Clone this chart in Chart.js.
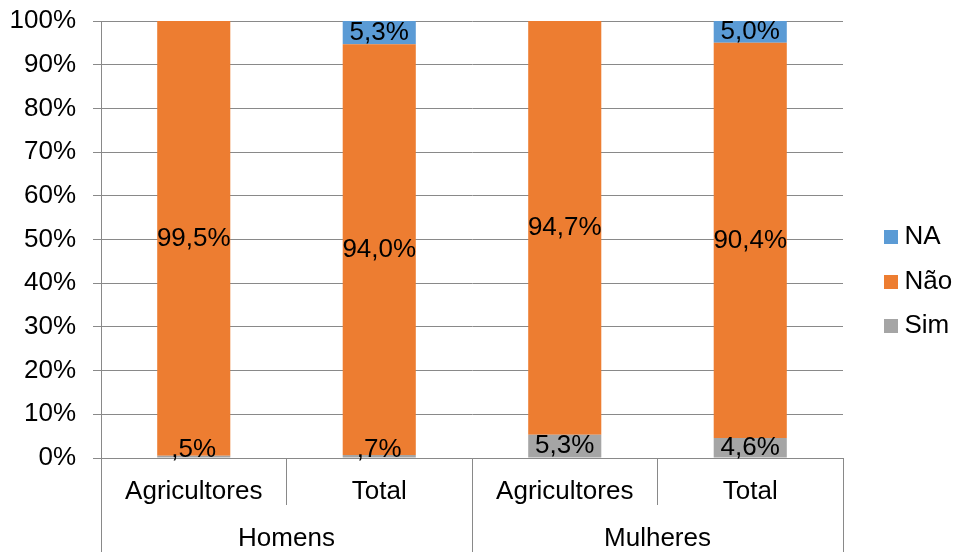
<!DOCTYPE html>
<html>
<head>
<meta charset="utf-8">
<script src="https://cdn.jsdelivr.net/npm/chart.js@4"></script>
<style>
html,body{margin:0;padding:0;background:#fff;}
#wrap{width:956px;height:552px;}
</style>
</head>
<body>
<div id="wrap"><canvas id="c" width="956" height="552"></canvas></div>
<script>
// ---- data ----
const categories = ['Agricultores', 'Total', 'Agricultores', 'Total'];
const groups = ['Homens', 'Mulheres'];
const seriesNames = ['Sim', 'Não', 'NA'];
const simValues = [0.5, 0.7, 5.3, 4.6];
const naoValues = [99.5, 94.0, 94.7, 90.4];
const naValues = [0, 5.3, 0, 5.0];
const yTickValues = [0, 10, 20, 30, 40, 50, 60, 70, 80, 90, 100];

// ---- style ----
const COLORS = ['#A5A5A5', '#ED7D31', '#5B9BD5'];
const GRID = '#898989';
const FONT = '"Liberation Sans", Arial, sans-serif';
const FSIZE = 26;

Chart.defaults.font.family = FONT;
Chart.defaults.font.size = FSIZE;
Chart.defaults.color = '#000';

function fmt(v) {
  let s = v.toFixed(1).replace('.', ',');
  if (s.startsWith('0')) s = s.slice(1);
  return s + '%';
}

function swatch(color) {
  const c = document.createElement('canvas');
  c.width = 14; c.height = 14;
  const g = c.getContext('2d');
  g.fillStyle = color;
  g.fillRect(0, 0, 14, 14);
  return c;
}

const dataLabels = {
  id: 'dataLabels',
  afterDatasetsDraw(chart) {
    const ctx = chart.ctx;
    const area = chart.chartArea;
    ctx.save();
    ctx.font = FSIZE + 'px ' + FONT;
    ctx.fillStyle = '#000';
    ctx.textAlign = 'center';
    ctx.textBaseline = 'middle';
    chart.data.datasets.forEach((ds, di) => {
      const meta = chart.getDatasetMeta(di);
      meta.data.forEach((bar, i) => {
        const v = ds.data[i];
        if (!v) return;
        let y = (bar.y + bar.base) / 2;
        y = Math.min(y, area.bottom - 8);
        ctx.fillText(fmt(v), bar.x, y);
      });
    });
    ctx.restore();
  }
};

const LEGEND_X = 890.5;
const LEGEND_Y = 224;
const legendPlace = {
  id: 'legendPlace',
  afterLayout(chart) {
    const l = chart.legend;
    if (!l || !l.columnSizes || !l.columnSizes.length) return;
    const pad = l.options.labels.padding;
    const dx = LEGEND_X - (l.left + pad);
    l.left += dx; l.right += dx;
    const colH = l.columnSizes[0].height;
    const y0 = (l.top + pad + l.bottom - colH) / 2;
    const dy = LEGEND_Y - y0;
    l.top += dy; l.bottom += dy;
  }
};

const axisGrid = {
  display: true,
  drawOnChartArea: false,
  drawTicks: true,
  tickLength: 47,
  offset: true,
  color: GRID,
  lineWidth: 1
};

function fitX(s) { s.height = 47; s.paddingLeft = 0; s.paddingRight = 0; }

new Chart(document.getElementById('c'), {
  type: 'bar',
  data: {
    labels: categories,
    datasets: [
      { label: seriesNames[0], data: simValues, backgroundColor: COLORS[0] },
      { label: seriesNames[1], data: naoValues, backgroundColor: COLORS[1] },
      { label: seriesNames[2], data: naValues, backgroundColor: COLORS[2] }
    ]
  },
  options: {
    responsive: false,
    animation: false,
    devicePixelRatio: 1,
    datasets: { bar: { categoryPercentage: 1, barPercentage: 0.394, borderWidth: 0 } },
    layout: { padding: { top: 21, right: 23, bottom: 0, left: 0 } },
    scales: {
      x: {
        stacked: true,
        offset: true,
        weight: 0,
        grid: axisGrid,
        border: { display: true, color: GRID },
        ticks: { padding: -29, maxRotation: 0, minRotation: 0, autoSkip: false, color: '#000', font: { size: FSIZE } },
        afterFit: fitX
      },
      x2: {
        type: 'category',
        labels: groups,
        position: 'bottom',
        offset: true,
        weight: 1,
        grid: axisGrid,
        border: { display: false },
        ticks: { padding: -29, maxRotation: 0, minRotation: 0, autoSkip: false, color: '#000', font: { size: FSIZE } },
        afterFit: fitX
      },
      y: {
        stacked: true,
        min: 0,
        max: 100,
        grid: { color: GRID, lineWidth: 1, tickLength: 8, drawTicks: true },
        border: { display: true, color: GRID },
        afterBuildTicks(s) { s.ticks = yTickValues.map(v => ({ value: v })); },
        ticks: { padding: 17, color: '#000', font: { size: FSIZE }, callback: v => v + '%' },
        afterFit(s) { s.width = 101; s.paddingTop = 0; s.paddingBottom = 0; }
      }
    },
    plugins: {
      tooltip: { enabled: false },
      legend: {
        position: 'right',
        reverse: true,
        maxWidth: 90,
        labels: {
          usePointStyle: true,
          pointStyleWidth: 1,
          boxHeight: 14,
          padding: 18.5,
          color: '#000',
          font: { size: FSIZE },
          generateLabels(chart) {
            const items = Chart.defaults.plugins.legend.labels.generateLabels(chart);
            items.forEach(it => { it.pointStyle = swatch(COLORS[it.datasetIndex]); });
            return items;
          }
        }
      }
    }
  },
  plugins: [dataLabels, legendPlace]
});
</script>
</body>
</html>
